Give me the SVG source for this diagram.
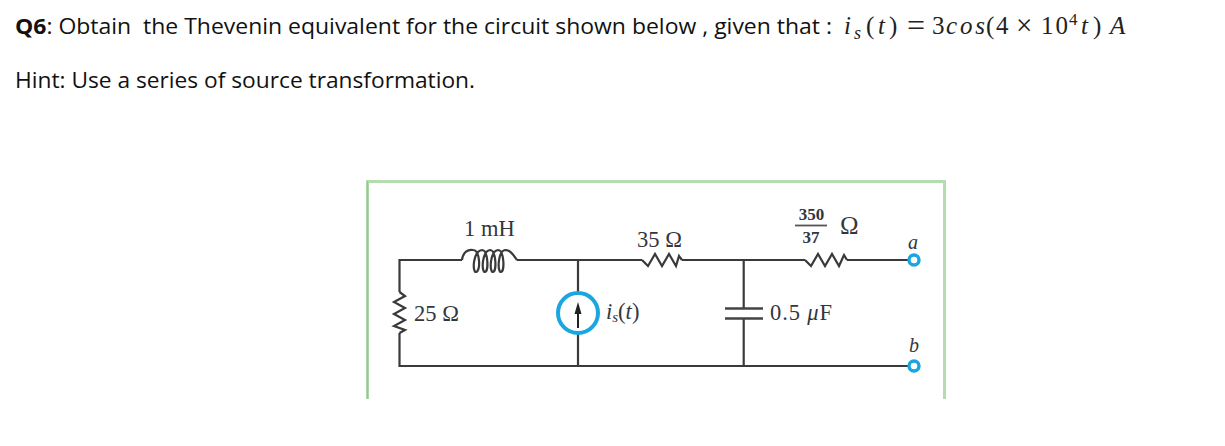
<svg xmlns="http://www.w3.org/2000/svg" width="1225" height="446" viewBox="0 0 1225 446">
<style>
.t{font-family:"Open Sans","Noto Sans",sans-serif;font-size:22px;fill:#111}
.m{font-family:"Liberation Serif",serif;font-size:25px;fill:#222}
.c{font-family:"Liberation Serif",serif;font-size:22.500px;fill:#33373d}
.f{font-family:"Liberation Serif",serif;font-size:17px;font-weight:700;fill:#33373d}
.i{font-style:italic}
.w{fill:none;stroke:#3a3a3a;stroke-width:2.200}
.term{fill:#fff;stroke:#18a5e0;stroke-width:3.400}
</style>
<rect width="1225" height="446" fill="#fff"/>
<g id="question">
<text class="t" x="15" y="34" textLength="817" lengthAdjust="spacingAndGlyphs" xml:space="preserve"><tspan font-weight="700">Q6</tspan>: Obtain  the Thevenin equivalent for the circuit shown below , given that :</text>
<text class="m i" x="844" y="34">i</text>
<text class="m i" x="854" y="39" style="font-size:18px">s</text>
<text class="m" x="866" y="34">(</text>
<text class="m i" x="878" y="34">t</text>
<text class="m" x="889" y="34">)</text>
<text class="m" x="907" y="36" style="font-size:32px">=</text>
<text class="m" x="932" y="34">3</text>
<text class="m i" x="946" y="34" textLength="39" lengthAdjust="spacing">cos</text>
<text class="m" x="986" y="34">(</text>
<text class="m" x="996" y="34">4</text>
<text class="m" x="1016" y="35" style="font-size:29px">×</text>
<text class="m" x="1041" y="34" textLength="27" lengthAdjust="spacing">10</text>
<text class="m" x="1069" y="25" style="font-size:17px">4</text>
<text class="m i" x="1081" y="34">t</text>
<text class="m" x="1093" y="34">)</text>
<text class="m i" x="1110" y="34">A</text>
</g>
<g id="hint"><text class="t" x="15" y="88" textLength="460" lengthAdjust="spacingAndGlyphs">Hint: Use a series of source transformation.</text></g>
<g id="frame"><path d="M367.500 399V181.500H944.500V399" fill="none" stroke="#b4dcb0" stroke-width="3"/><path d="M367.500 399V181.500" fill="none" stroke="#8fce8a" stroke-width="1.500"/></g>
<g id="connectors" class="w">
<path d="M399.500 292V260H462M517 260H642M682 260H805M847 260H909"/>
<path d="M399.500 333V366H909"/>
<path d="M578 260V293M578 333V366"/>
<path d="M743.700 260V308.500M743.700 318.500V366"/>
</g>
<g id="r25"><path class="w" d="M399.500 292L405 296 394 302 405 308 394 314 405 320 394 326 405 330 399.500 333"/><text class="c" x="414" y="321">25 Ω</text></g>
<g id="l1"><path class="w" d="M462 260C463 252 468 249 473 250C480 250 481 271 476 272C472 272 473 251 482 250C488 250 489 271 485 272C481 272 482 251 490 250C496 250 497 271 493 272C489 272 490 251 498 250C504 250 505 271 501 272C497 272 498 251 505 250C511 250 513 255 517 260"/><text class="c" x="464" y="236">1 mH</text></g>
<g id="r35"><path class="w" d="M642 260L648 266 655 254 662 266 669 254 676 266 679 256 682 260"/><text class="c" x="637" y="247">35 Ω</text></g>
<g id="r350"><path class="w" d="M805 260L811 266 818 254 825 266 832 254 839 266 844 255 847 260"/>
<text class="f" x="811.500" y="220" text-anchor="middle">350</text>
<path d="M795 225.500H827" stroke="#555" stroke-width="1.800"/>
<text class="f" x="811" y="243" text-anchor="middle">37</text>
<text class="c" x="840" y="234" style="font-size:25px">Ω</text></g>
<g id="source"><circle cx="578" cy="313" r="20" fill="#fff" stroke="#1aa6e0" stroke-width="4"/>
<path d="M578 328V310" stroke="#222" stroke-width="2"/><path d="M578 302L581.500 314H574.500Z" fill="#222"/>
<text class="c" x="606" y="319"><tspan class="i">i</tspan><tspan class="i" style="font-size:15px" dy="3">s</tspan><tspan dy="-3">(</tspan><tspan class="i">t</tspan>)</text></g>
<g id="cap"><path d="M725 308.500H763M725 318.500H763" stroke="#444" stroke-width="2.600" fill="none"/><text class="c" x="770" y="320" textLength="62" lengthAdjust="spacing">0.5 <tspan class="i">μ</tspan>F</text></g>
<g id="term-a"><circle class="term" cx="914" cy="260" r="5"/><text class="c i" x="908" y="249" style="font-size:20px">a</text></g>
<g id="term-b"><circle class="term" cx="914" cy="366" r="5"/><text class="c i" x="909" y="352" style="font-size:20px">b</text></g>
</svg>
